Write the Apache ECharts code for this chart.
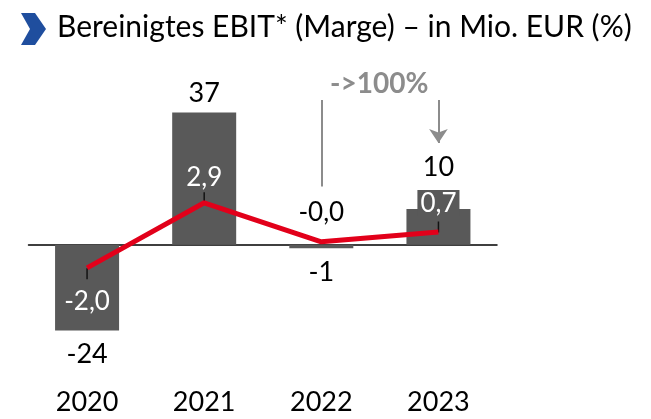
<!DOCTYPE html>
<html>
<head>
<meta charset="utf-8">
<script src="https://cdn.jsdelivr.net/npm/echarts@6/dist/echarts.min.js"></script>
<style>
  html, body { margin: 0; padding: 0; background: #fff; }
  #chart { width: 651px; height: 419px; }
</style>
</head>
<body>
<div id="chart"></div>
<script>
var years = ["2020", "2021", "2022", "2023"];
var ebit = [-24, 37, -1, 10];          // Mio. EUR
var ebitLabels = ["-24", "37", "-1", "10"];
var marge = [-2.0, 2.9, -0.04, 0.7];   // %
var margeLabels = ["-2,0", "2,9", "-0,0", "0,7"];

var FONT = "Lato";
var myChart = echarts.init(document.getElementById("chart"));

// label placement per bar (Excel moved them around a bit)
var barLabelDist = [10, 6, 10, 28];
var lineLabelPos = ["bottom", "top", "top", "top"];
var lineLabelDist = [21, 12, 16, 16];
var lineLabelColor = ["#fff", "#fff", "#000", "#fff"];

var barData = ebit.map(function (v, i) {
  return {
    value: v,
    label: {
      show: true,
      position: v < 0 ? "bottom" : "top",
      distance: barLabelDist[i],
      formatter: ebitLabels[i],
      fontFamily: FONT,
      fontSize: 27,
      color: "#000",
    },
  };
});

var lineData = marge.map(function (v, i) {
  var lbl = {
    show: true,
    position: lineLabelPos[i],
    distance: lineLabelDist[i],
    formatter: margeLabels[i],
    fontFamily: FONT,
    fontSize: 26,
    color: lineLabelColor[i],
  };
  if (i === 3) {
    lbl.backgroundColor = "#595959";
    lbl.padding = [1, 3, -1, 3];
  }
  return { value: v, label: lbl };
});

// short black leader ticks between label and point
var tickIdx = [0, 1, 3];
var tickData = tickIdx.map(function (i) {
  return {
    value: [years[i], marge[i]],
    symbolOffset: [0, marge[i] < 0 ? 6 : -5],
  };
});

var option = {
  animation: false,
  graphic: [
    {
      type: "polygon",
      shape: { points: [[21, 13], [35, 13], [46, 29], [35, 45], [21, 45], [30, 29]] },
      style: { fill: "#1F4E9E" },
    },
    {
      type: "text",
      left: 57,
      top: 12,
      style: {
        text: "Bereinigtes EBIT* (Marge) – in Mio. EUR (%)",
        font: "30px " + FONT,
        fill: "#000",
      },
    },
    {
      type: "text",
      left: 330,
      top: 70,
      style: {
        text: "->100%",
        font: "bold 28px " + FONT,
        fill: "#8C8C8C",
      },
    },
  ],
  grid: { left: 28.5, right: 154, top: 84, bottom: 67 },
  xAxis: [
    {
      type: "category",
      data: years,
      axisLine: { onZero: true, lineStyle: { color: "#000", width: 1.5 } },
      axisTick: { show: false },
      axisLabel: { show: false },
    },
    {
      type: "category",
      data: years,
      position: "bottom",
      axisLine: { show: false },
      axisTick: { show: false },
      axisLabel: { fontFamily: FONT, fontSize: 27, color: "#000", margin: 37 },
    },
  ],
  yAxis: [
    { type: "value", min: -30, max: 45, show: false, splitLine: { show: false } },
    { type: "value", min: -8.34, max: 11.85, show: false, splitLine: { show: false } },
  ],
  series: [
    {
      type: "bar",
      data: barData,
      barWidth: 64,
      itemStyle: { color: "#595959" },
      markLine: {
        silent: true,
        symbolSize: 14,
        lineStyle: { color: "#8C8C8C", width: 2, type: "solid" },
        label: { show: false },
        data: [
          [
            { coord: ["2022", 40.5], symbol: "none" },
            { coord: ["2022", 16.3], symbol: "none" },
          ],
          [
            { coord: ["2023", 40.5], symbol: "none" },
            { coord: ["2023", 28.5], symbol: "arrow" },
          ],
        ],
      },
    },
    {
      type: "line",
      yAxisIndex: 1,
      data: lineData,
      symbol: "circle",
      symbolSize: 0,
      showSymbol: true,
      lineStyle: { color: "#E2001A", width: 5 },
      z: 3,
    },
    {
      type: "scatter",
      yAxisIndex: 1,
      data: tickData,
      symbol: "rect",
      symbolSize: [1.5, 11],
      itemStyle: { color: "#000" },
      z: 2,
    },
  ],
};

myChart.setOption(option);
</script>
</body>
</html>
